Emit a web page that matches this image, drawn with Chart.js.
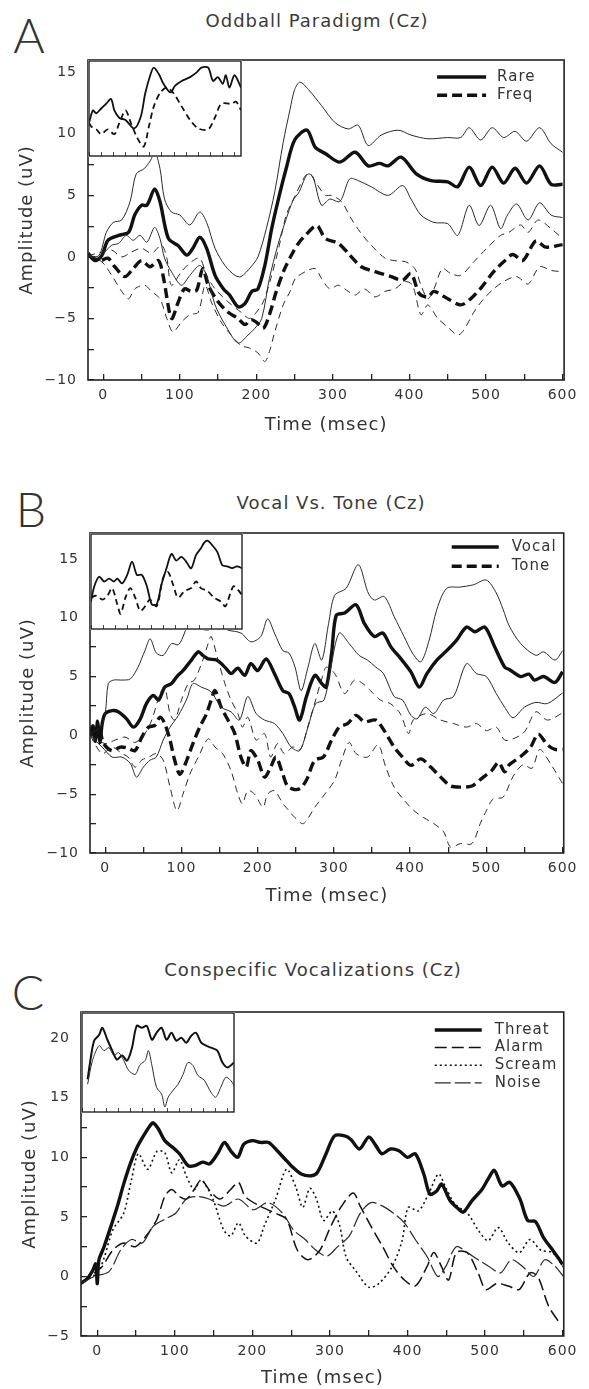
<!DOCTYPE html>
<html>
<head>
<meta charset="utf-8">
<script src="https://cdn.jsdelivr.net/npm/chart.js@4.4.1/dist/chart.umd.min.js"></script>
<style>
  body { margin: 0; background: #fff; }
  #page { position: relative; width: 589px; height: 1389px; overflow: hidden; font-family: "DejaVu Sans", sans-serif; color: #333; }
  canvas { position: absolute; left: 0; }
  .inset { background: #fff; }
  .letter { position: absolute; font-family: Lato, "DejaVu Sans", sans-serif; font-size: 48px; font-weight: 300; line-height: 1; color: #333; transform: translate(-50%, -50%); }
  .title { position: absolute; font-size: 18px; letter-spacing: 1px; white-space: nowrap; color: #3a3a3a; transform: translate(-50%, -50%); }
</style>
</head>
<body>
<div id="page">
  <div class="letter" style="left:29px;top:35px">A</div>
  <div class="title" style="left:317px;top:20px">Oddball Paradigm (Cz)</div>
  <canvas id="chartA" width="589" height="440" style="top:0px"></canvas>
  <canvas id="insetA" class="inset" width="154" height="97" style="left:88px;top:60px"></canvas>

  <div class="letter" style="left:31px;top:509px">B</div>
  <div class="title" style="left:331px;top:502px">Vocal Vs. Tone (Cz)</div>
  <canvas id="chartB" width="589" height="465" style="top:450px"></canvas>
  <canvas id="insetB" class="inset" width="153" height="97" style="left:90px;top:533px"></canvas>

  <div class="letter" style="left:28px;top:992px">C</div>
  <div class="title" style="left:313px;top:969px">Conspecific Vocalizations (Cz)</div>
  <canvas id="chartC" width="589" height="469" style="top:920px"></canvas>
  <canvas id="insetC" class="inset" width="154" height="101" style="left:81px;top:1012px"></canvas>
</div>
<script>
// ---- Panel A : oddball paradigm, [time ms, amplitude uV] ----
const rareA = [[-20,0.3],[-11,-0.3],[-2,0.1],[6,1.35],[20,1.75],[33,2.0],[41,3.4],[50,4.2],[57,4.2],[67,5.5],[74,4.5],[85,1.5],[98,0.9],[109,0.15],[117,0.7],[126,1.6],[135,0.7],[146,-1.5],[157,-2.6],[165,-3.1],[176,-4.05],[185,-3.8],[194,-2.8],[202,-2.6],[211,-0.7],[220,2.3],[228,4.5],[239,7.2],[250,9.5],[266,10.3],[277,8.9],[290,8.4],[309,7.7],[329,8.5],[346,7.4],[361,7.6],[372,7.4],[389,8.1],[409,6.75],[428,6.2],[450,6.1],[463,5.7],[478,7.3],[493,5.8],[508,7.3],[523,6.0],[538,7.2],[553,6.0],[570,7.4],[585,5.9],[600,5.9]];
const rareHiA = [[-20,0.1],[-6,0.1],[4,2.0],[13,2.8],[24,3.0],[35,4.5],[43,6.75],[54,7.2],[63,8.0],[67,8.65],[74,7.2],[80,4.7],[89,3.65],[100,3.4],[113,2.6],[126,3.65],[135,2.8],[146,0.7],[159,-0.7],[172,-1.5],[180,-1.6],[193,-0.8],[202,0],[213,2.3],[224,5.3],[235,9.3],[244,12.0],[250,13.6],[257,14.2],[268,13.6],[285,12.3],[303,10.9],[320,10.4],[333,10.7],[346,9.05],[363,9.9],[385,10.3],[402,9.9],[424,9.6],[450,9.7],[467,9.7],[478,10.5],[493,9.5],[508,10.5],[523,9.7],[538,10.2],[553,9.4],[570,10.5],[585,9.2],[600,8.5]];
const rareLoA = [[-20,0.1],[-6,-0.1],[2,0.4],[11,0.95],[20,1.1],[30,1.75],[39,1.35],[48,1.75],[57,1.2],[67,2.4],[74,1.5],[80,-0.1],[89,-1.2],[102,-2.3],[113,-1.5],[126,-0.7],[135,-1.5],[146,-3.9],[159,-5.5],[176,-7.0],[189,-6.35],[198,-5.8],[207,-5.0],[217,-1.75],[228,0.95],[239,3.1],[248,4.6],[256,5.3],[263,6.35],[268,6.75],[274,6.5],[285,4.2],[296,4.7],[309,4.5],[322,6.35],[333,6.2],[350,5.7],[372,5.0],[391,5.8],[402,4.7],[415,3.4],[432,2.8],[450,2.7],[463,1.75],[478,4.2],[491,2.55],[506,4.2],[519,2.3],[528,3.4],[540,4.3],[555,3.0],[570,4.4],[585,3.4],[600,3.2]];
const freqA = [[-20,0.1],[-4,-0.3],[6,-0.1],[15,-0.8],[28,-1.6],[39,-0.95],[50,-0.3],[61,-0.8],[72,-0.3],[78,-1.5],[87,-4.7],[90,-5.0],[98,-3.65],[106,-2.6],[115,-2.8],[122,-2.7],[130,-0.95],[137,-2.3],[150,-3.65],[163,-4.5],[176,-5.0],[185,-5.5],[193,-5.1],[200,-5.3],[209,-5.8],[217,-4.7],[226,-2.8],[237,-0.95],[248,0.4],[256,1.2],[264,1.75],[279,2.55],[290,1.5],[307,1.1],[322,0.15],[337,-0.8],[355,-1.2],[376,-1.6],[391,-1.9],[402,-1.35],[413,-3.0],[424,-3.25],[432,-2.8],[450,-3.4],[467,-3.9],[480,-3.4],[493,-2.55],[510,-1.2],[523,-0.4],[535,0.2],[548,-0.3],[565,1.3],[578,0.8],[600,1.0]];
const freqHiA = [[-20,0.1],[-2,0.4],[11,0.55],[24,0],[37,0.4],[50,0.7],[63,0.3],[76,0.95],[83,-0.1],[89,-2.3],[102,-1.2],[115,-0.4],[126,-0.1],[135,-1.5],[146,-2.6],[163,-3.65],[180,-4.5],[191,-5.0],[200,-4.5],[209,-3.65],[220,-1.5],[230,0.95],[239,3.4],[250,4.9],[264,6.6],[270,6.75],[277,6.1],[290,5.0],[298,5.0],[311,4.5],[324,3.1],[337,1.9],[350,0.95],[368,-0.1],[380,-0.3],[395,-0.4],[407,-0.95],[415,-2.3],[424,-3.4],[432,-2.6],[443,-0.95],[454,-1.35],[467,-1.5],[484,-0.4],[501,0.7],[519,1.75],[530,2.0],[545,2.6],[555,2.0],[568,3.0],[585,2.3],[600,1.5]];
const freqLoA = [[-20,0.1],[-2,-0.4],[11,-1.5],[24,-2.8],[33,-3.4],[41,-2.6],[54,-2.3],[63,-2.8],[74,-3.4],[83,-5.0],[91,-6.1],[102,-5.3],[113,-4.7],[124,-4.5],[133,-2.3],[141,-3.65],[154,-5.3],[167,-6.35],[180,-7.2],[191,-7.4],[202,-7.8],[211,-8.5],[217,-7.7],[224,-6.1],[235,-3.9],[244,-2.8],[251,-1.75],[264,-1.2],[277,-0.95],[285,-1.75],[296,-2.6],[307,-2.3],[320,-2.8],[329,-3.1],[341,-2.6],[355,-3.25],[368,-2.8],[381,-2.6],[394,-2.0],[404,-2.3],[415,-4.7],[424,-3.9],[437,-5.0],[450,-5.7],[463,-6.35],[471,-5.95],[484,-4.5],[497,-3.4],[510,-2.6],[523,-2.0],[540,-1.6],[555,-2.2],[570,-0.8],[585,-1.1],[600,-1.2]];
// inset A (unlabelled, 0-100 across, 0-10 up)
const insetSolidA = [[0,3.5],[2.6,4.8],[4.8,4.5],[8,5.0],[11.3,5.5],[14.5,6.0],[16.7,4.8],[20,4.0],[24,3.8],[29.7,2.9],[34,4.1],[37,6.6],[40.5,8.6],[42.6,9.3],[46,8.6],[49,7.6],[53.5,6.7],[56.7,7.4],[61,7.9],[66.5,8.3],[70.8,8.8],[74,9.3],[78.4,9.3],[81.6,7.9],[84.8,8.3],[88,7.6],[90,8.5],[92.4,7.2],[95.7,8.5],[100,7.2]];
const insetDashA = [[0,3.5],[1.5,3.1],[4.8,2.8],[8,2.3],[12.3,2.8],[16.7,2.3],[20,3.5],[24,4.8],[27.5,3.5],[31.8,1.9],[36,1.0],[39.4,3.1],[42.6,5.2],[47,6.7],[51.3,7.2],[55.6,6.6],[61,5.2],[66.5,3.8],[71.9,2.9],[78.4,2.8],[82.7,4.0],[87,5.5],[93.5,5.5],[96.8,5.7],[100,4.8]];

// ---- Panel B : vocal vs tone ----
const vocalB = [[-20,0],[-16,0.8],[-13,-0.5],[-10,1.2],[-7,-0.6],[-4,1.0],[0,1.85],[9,2.1],[17,2.0],[28,1.4],[37,0.7],[46,1.4],[54,2.7],[63,3.4],[70,3.0],[78,4.1],[87,4.4],[94,5.0],[102,5.5],[113,6.4],[122,7.1],[128,6.8],[135,6.5],[146,6.4],[157,5.8],[165,5.25],[174,5.7],[183,5.1],[191,6.1],[200,5.5],[211,6.5],[222,5.25],[233,3.8],[241,3.55],[248,2.5],[255,1.3],[264,3.3],[275,5.1],[284,4.4],[290,4.1],[297,7.0],[303,10.2],[314,10.4],[329,11.1],[340,9.5],[353,8.4],[364,8.7],[375,7.5],[388,6.5],[401,5.4],[412,4.1],[422,5.25],[435,6.4],[448,7.2],[461,8.1],[474,9.2],[485,8.8],[498,9.2],[511,7.5],[524,5.8],[530,5.6],[545,5.0],[556,5.2],[563,4.7],[575,5.0],[590,4.5],[600,5.4]];
const vocalHiB = [[-20,0.15],[-6,0.7],[0,1.85],[4,4.4],[11,4.7],[22,4.7],[33,4.8],[43,5.8],[52,7.2],[59,8.2],[67,7.0],[76,6.8],[87,7.8],[96,7.7],[104,8.7],[113,10.4],[122,9.2],[135,8.95],[148,9.4],[161,8.95],[178,8.7],[191,7.95],[204,8.4],[213,9.9],[222,8.7],[233,7.2],[241,7.0],[249,5.8],[257,3.8],[266,5.8],[275,7.8],[284,6.4],[293,9.5],[301,11.9],[316,12.5],[332,14.5],[345,12.1],[353,11.5],[366,11.8],[379,10.1],[392,8.4],[403,7.0],[414,6.25],[425,8.1],[435,10.7],[448,12.5],[465,12.6],[483,12.8],[500,13.2],[513,12.1],[522,10.7],[530,9.3],[545,7.8],[565,6.8],[575,7.1],[590,6.4],[600,7.2]];
const vocalLoB = [[-20,0],[-4,-1.0],[9,-1.85],[22,-1.85],[33,-2.4],[41,-3.55],[50,-2.7],[59,-2.1],[67,-1.85],[76,-0.4],[85,0.7],[96,1.7],[107,3.1],[115,4.4],[126,4.1],[139,3.7],[152,2.4],[165,2.0],[176,1.3],[187,3.3],[198,1.85],[209,1.3],[222,1.0],[233,0.15],[244,-1.0],[255,-1.3],[266,0.7],[276,2.7],[287,3.0],[296,5.8],[307,8.7],[320,7.8],[333,6.8],[344,6.4],[355,5.8],[365,5.25],[379,3.3],[390,3.0],[401,1.7],[409,1.4],[420,2.4],[431,1.85],[444,3.0],[457,3.3],[474,6.1],[487,5.25],[500,5.0],[513,3.55],[524,2.4],[535,1.5],[550,2.4],[565,2.8],[580,2.7],[600,3.6]];
const toneB = [[-20,0],[-9,0.7],[-2,-0.7],[9,-1.3],[20,-1.0],[30,-1.1],[39,-1.3],[48,-0.15],[57,0.7],[65,0.85],[72,1.55],[78,1.0],[85,-0.4],[91,-2.1],[98,-3.3],[107,-2.1],[115,-0.7],[124,0.7],[133,1.85],[139,3.0],[144,3.8],[152,2.4],[161,1.3],[170,0.15],[178,-1.85],[185,-2.7],[191,-1.3],[200,-2.1],[209,-3.55],[217,-2.7],[224,-1.85],[233,-3.3],[239,-4.3],[248,-4.6],[256,-4.5],[264,-3.8],[275,-2.1],[286,-1.85],[297,-0.4],[307,0.7],[318,1.0],[329,1.7],[340,1.15],[355,1.3],[366,0.4],[379,-1.0],[390,-1.85],[401,-2.55],[414,-2.0],[427,-2.7],[440,-3.55],[453,-4.3],[466,-4.4],[481,-4.3],[496,-3.55],[507,-3.0],[516,-2.3],[524,-3.1],[530,-2.5],[545,-1.8],[558,-1.0],[568,0.1],[580,-0.8],[590,-1.2],[600,-1.2]];
const toneHiB = [[-20,0],[0,-0.7],[13,-0.4],[26,-0.15],[39,-0.6],[52,0.15],[61,1.3],[72,3.55],[78,4.1],[85,1.85],[91,1.3],[100,3.0],[109,4.4],[117,4.7],[128,6.4],[135,7.8],[139,8.4],[148,6.4],[157,4.4],[165,3.0],[174,1.85],[180,0.7],[187,1.55],[198,-0.4],[209,0.15],[217,-1.85],[226,-0.7],[235,-1.55],[246,-1.0],[256,-1.2],[266,0.8],[276,3.0],[285,5.0],[290,5.8],[301,5.25],[314,3.55],[327,4.7],[338,4.4],[348,3.8],[361,3.0],[374,2.7],[387,1.85],[398,0.15],[404,1.3],[422,1.85],[440,1.3],[457,1.0],[474,0.7],[487,1.0],[500,0.4],[513,0.7],[524,-0.4],[535,-0.3],[550,0.3],[565,2.0],[580,1.3],[600,1.9]];
const toneLoB = [[-20,0],[-4,-1.55],[9,-1.0],[22,-1.55],[30,-1.85],[39,-2.7],[48,-2.1],[57,-1.85],[67,-1.55],[76,-2.1],[85,-4.4],[94,-6.4],[102,-5.0],[111,-3.3],[122,-1.85],[135,-0.3],[144,-1.0],[154,-1.55],[165,-3.0],[174,-5.0],[180,-5.8],[187,-4.7],[196,-5.0],[207,-6.1],[213,-5.0],[222,-4.7],[233,-5.8],[241,-6.4],[249,-7.0],[260,-7.5],[275,-6.1],[288,-5.0],[301,-3.8],[310,-2.1],[320,-0.6],[329,-1.55],[344,-1.85],[358,-0.8],[368,-2.7],[379,-4.4],[392,-5.5],[405,-6.4],[418,-7.0],[431,-7.5],[444,-8.2],[453,-9.5],[466,-9.2],[481,-9.2],[492,-7.5],[500,-6.4],[509,-5.4],[522,-5.25],[535,-3.5],[548,-2.5],[560,-2.8],[570,-1.2],[585,-2.5],[600,-4.1]];
const insetSolidB = [[0,2.9],[2.2,4.5],[5.4,5.5],[8.7,5.0],[12,5.3],[15.2,5.0],[17.4,5.3],[20.6,4.8],[24,5.7],[27.2,7.1],[30.4,5.7],[33.7,5.7],[37,4.5],[40.2,2.6],[43.5,2.6],[46.7,4.7],[50,6.4],[53.3,7.9],[56.5,7.2],[59.8,7.6],[63,7.1],[66.3,6.4],[69.6,7.8],[72.8,8.5],[75,9.1],[77.2,9.3],[80.4,8.8],[83.7,8.1],[87,6.7],[90.2,6.6],[93.5,6.4],[96.7,6.6],[100,6.4]];
const insetDashB = [[0,3.3],[3.3,3.5],[7.6,3.1],[10.9,3.5],[14,4.3],[17.4,2.6],[19.6,1.6],[22.8,3.3],[26,4.3],[29.3,3.3],[32.6,1.9],[35.9,2.4],[39,3.1],[43.5,2.4],[47.8,5.4],[51,6.0],[54.3,4.7],[57.6,3.3],[62,4.0],[66.3,4.3],[69.6,5.0],[72.8,4.3],[77.2,4.0],[81.5,3.3],[85.9,2.9],[89,2.4],[92.4,3.8],[94.6,4.5],[100,3.6]];

// ---- Panel C : conspecific vocalizations ----
const threatC = [[-22,-0.6],[-13,-0.2],[-6,0.5],[-2,1.05],[0,-0.6],[2,1.35],[8.5,2.45],[17,4.1],[25.5,5.8],[34,7.75],[42.5,9.45],[51,10.8],[59.6,11.8],[68,12.65],[72,12.9],[78.7,12.4],[87,11.4],[98,10.8],[106,10.3],[117,9.3],[125.5,9.3],[136,9.6],[144.7,9.45],[155,10.3],[164,11.25],[172,10.55],[181,10.0],[189,11.1],[200,11.4],[210.6,11.25],[221,11.25],[232,10.55],[242,9.86],[250,9.3],[263,8.6],[276,8.45],[284,8.75],[295,10.3],[306,11.8],[319,11.8],[327,11.5],[338,10.7],[350,11.7],[359,11.0],[367,10.3],[378,10.7],[389,10.55],[400,10.0],[410,10.3],[421,8.6],[429,6.9],[438,7.2],[444,7.75],[455,6.35],[466,5.65],[472,5.4],[483,6.35],[496,7.3],[505,8.3],[512,8.9],[522,7.6],[532,7.9],[545,6.5],[555,4.7],[565,4.6],[575,3.3],[585,2.4],[595,1.5],[600,1.0]];
const alarmC = [[-22,-0.6],[0,0.5],[6,0.8],[20,2.2],[34,2.8],[49,2.5],[63,3.4],[77,4.8],[87,6.7],[96,7.3],[106,6.7],[115,6.5],[125,7.3],[134,8.1],[144,7.3],[158,6.5],[172,7.3],[182,7.9],[191,6.7],[210,5.9],[230,5.3],[244,4.8],[258,2.2],[272,1.4],[287,2.2],[301,4.2],[315,5.9],[330,7.0],[339,5.9],[353,4.2],[368,2.5],[382,0.8],[396,-0.3],[410,-0.8],[425,0.8],[434,2.0],[444,0.8],[453,-0.3],[463,2.0],[477,2.0],[491,0.3],[501,-1.1],[515,-0.6],[530,-0.8],[544,-1.1],[558,0.3],[568,0],[582,-2.5],[596,-3.9]];
const screamC = [[-22,-0.6],[0,0.3],[8,1.4],[20,3.9],[34,5.3],[44,8.1],[53,10.3],[65,9.0],[77,10.5],[87,10.4],[96,8.7],[106,9.8],[115,8.4],[125,7.3],[134,8.1],[149,6.5],[163,3.9],[172,3.4],[182,4.5],[191,3.4],[206,2.8],[215,4.2],[230,6.5],[244,9.0],[256,7.5],[265,5.8],[274,7.4],[282,6.6],[292,4.7],[303,5.5],[312,4.4],[321,1.6],[333,0.5],[350,-0.9],[363,-0.6],[380,0.8],[393,3.0],[401,5.8],[414,5.5],[427,6.9],[440,8.6],[449,7.5],[461,6.1],[478,5.25],[491,3.9],[504,3.0],[517,4.1],[530,2.8],[544,2.0],[558,3.1],[572,2.2],[587,2.0],[601,0.8]];
const noiseC = [[-22,-0.6],[-4,0],[15,0.4],[30,2.2],[44,3.1],[58,2.8],[72,4.2],[87,4.8],[101,5.3],[115,6.5],[130,6.7],[144,6.5],[163,5.9],[182,6.5],[201,5.6],[220,6.2],[239,5.3],[253,3.9],[268,3.1],[282,2.2],[296,1.7],[310,2.5],[325,3.4],[339,5.3],[353,6.2],[368,5.9],[382,5.3],[396,4.5],[410,3.1],[425,1.7],[439,0],[449,0.8],[463,2.5],[477,2.0],[491,1.4],[506,0.8],[520,0.3],[534,1.4],[549,0.8],[563,0],[577,1.4],[591,0.8],[601,0]];
const insetThickC = [[3.7,3.3],[5.8,5.5],[8,7.2],[11.3,7.8],[13.4,8.5],[16.7,7.3],[19.9,6.2],[23,5.3],[26.4,5.7],[29.7,5.2],[32.9,6.5],[36,8.7],[39.4,8.5],[42.6,8.7],[46,7.3],[49,8.0],[52.4,8.5],[55.6,7.3],[58.9,8.0],[62,7.2],[65.4,7.5],[68.6,7.0],[71.9,7.7],[75,8.0],[78.4,7.0],[81.6,6.7],[84.8,6.5],[89,6.2],[92.4,5.0],[95.7,4.5],[100,5.0]];
const insetThinC = [[3.7,2.8],[6.9,5.2],[11.3,6.7],[14.5,6.2],[17.7,6.5],[21,5.7],[24,6.0],[27.5,5.2],[30.7,4.2],[35,3.8],[38.3,4.8],[41.6,5.2],[43.7,6.2],[46,4.7],[49,2.5],[52.4,1.8],[54.5,0.5],[56.7,1.5],[60,2.2],[63.2,2.8],[66.5,3.8],[69.7,5.0],[73,4.7],[76.2,3.7],[80.5,3.2],[84.8,2.0],[88,1.5],[91.3,2.5],[94.6,3.5],[97.8,3.2],[100,2.7]];

const INK = '#111';
const THIN = '#2a2a2a';
const FONT = '"DejaVu Sans", sans-serif';

function xy(arr) {
    return arr.map(p => ({ x: p[0], y: p[1] }));
}

function line(label, arr, width, dash, color, inLegend) {
    return {
        label: label,
        data: xy(arr),
        borderColor: color,
        borderWidth: width,
        borderDash: dash,
        pointRadius: 0,
        tension: 0.3,
        fill: false,
        inLegend: inLegend
    };
}

function minus(v) {
    return v < 0 ? '\u2212' + Math.abs(v) : String(v);
}

// wider lettering, like the scanned figure
const spacingPlugin = {
    id: 'spacing',
    beforeDraw(chart) {
        chart.ctx.letterSpacing = '1px';
    }
};

// box round the plot area
const framePlugin = {
    id: 'frame',
    afterDraw(chart, args, opts) {
        const a = chart.chartArea;
        const ctx = chart.ctx;
        ctx.save();
        ctx.strokeStyle = '#222';
        ctx.lineWidth = opts.width || 1.6;
        ctx.strokeRect(a.left, a.top, a.right - a.left, a.bottom - a.top);
        ctx.restore();
    }
};

// line-style legend in the upper right of the plot
const legendPlugin = {
    id: 'panelLegend',
    afterDraw(chart, args, opts) {
        if (!opts || !opts.len) return;
        const a = chart.chartArea;
        const ctx = chart.ctx;
        const items = chart.data.datasets.filter(d => d.inLegend);
        items.sort((p, q) => p.inLegend - q.inLegend);
        items.forEach((d, i) => {
            const y = a.top + opts.top + i * opts.row;
            const x0 = a.right - opts.right;
            ctx.save();
            ctx.strokeStyle = d.borderColor;
            ctx.lineWidth = d.borderWidth;
            ctx.setLineDash(d.borderDash || []);
            ctx.beginPath();
            ctx.moveTo(x0, y);
            ctx.lineTo(x0 + opts.len, y);
            ctx.stroke();
            ctx.setLineDash([]);
            ctx.fillStyle = '#333';
            ctx.font = '15px ' + FONT;
            ctx.textBaseline = 'middle';
            ctx.fillText(d.label, x0 + opts.len + opts.gap, y);
            ctx.restore();
        });
    }
};

function mainChart(id, datasets, cfg) {
    return new Chart(document.getElementById(id), {
        type: 'line',
        data: { datasets: datasets },
        options: {
            responsive: false,
            animation: false,
            layout: { padding: { top: cfg.top, right: cfg.right, left: 0, bottom: 0 } },
            plugins: {
                legend: { display: false },
                tooltip: { enabled: false },
                panelLegend: cfg.legend
            },
            scales: {
                x: {
                    type: 'linear',
                    min: cfg.xmin,
                    max: cfg.xmax,
                    afterFit: s => { s.height = cfg.xh; },
                    border: { display: false },
                    grid: { drawOnChartArea: false, drawTicks: true, tickLength: -6, color: '#222', lineWidth: 1.3 },
                    ticks: {
                        stepSize: 50, includeBounds: false, autoSkip: false, maxRotation: 0,
                        padding: 13, color: '#333', font: { size: 14, family: FONT },
                        callback: v => (v % 100 === 0 ? minus(v) : '')
                    },
                    title: {
                        display: true, text: 'Time (msec)', color: '#333',
                        font: { size: 18, family: FONT }, padding: { top: 0, bottom: cfg.tpad }
                    }
                },
                y: {
                    min: cfg.ymin,
                    max: cfg.ymax,
                    afterFit: s => { s.width = cfg.yw; },
                    border: { display: false },
                    grid: { drawOnChartArea: false, drawTicks: true, tickLength: -6, color: '#222', lineWidth: 1.3 },
                    ticks: {
                        stepSize: 2.5, includeBounds: false, autoSkip: false,
                        padding: 17, color: '#333', font: { size: 14, family: FONT },
                        callback: v => (v % 5 === 0 ? minus(v) : '')
                    },
                    title: {
                        display: true, text: 'Amplitude (uV)', color: '#333',
                        font: { size: 18, family: FONT }, padding: { top: cfg.ypad, bottom: 0 }
                    }
                }
            }
        },
        plugins: [spacingPlugin, framePlugin, legendPlugin]
    });
}

function insetChart(id, datasets) {
    return new Chart(document.getElementById(id), {
        type: 'line',
        data: { datasets: datasets },
        options: {
            responsive: false,
            animation: false,
            layout: { padding: 1 },
            plugins: { legend: { display: false }, tooltip: { enabled: false }, frame: { width: 1.4 } },
            scales: {
                x: {
                    type: 'linear', min: 0, max: 100,
                    afterFit: s => { s.height = 0; },
                    border: { display: false },
                    grid: { drawOnChartArea: false, drawTicks: true, tickLength: -4, color: '#444', lineWidth: 1 },
                    ticks: { display: false, stepSize: 8, includeBounds: false, autoSkip: false }
                },
                y: { min: 0, max: 10, display: false }
            }
        },
        plugins: [framePlugin]
    });
}

mainChart('chartA', [
    line('Rare +', rareHiA, 1, [], THIN, 0),
    line('Rare -', rareLoA, 1, [], THIN, 0),
    line('Freq +', freqHiA, 1, [7, 5], THIN, 0),
    line('Freq -', freqLoA, 1, [7, 5], THIN, 0),
    line('Freq', freqA, 3.4, [10, 5], INK, 2),
    line('Rare', rareA, 3.4, [], INK, 1)
], { top: 60, right: 23, xh: 60, yw: 88, xmin: -20, xmax: 602, ymin: -10, ymax: 16, tpad: 4, ypad: 17,
     legend: { top: 17, row: 18.3, right: 127, len: 49, gap: 11 } });

insetChart('insetA', [
    line('', insetDashA, 1.8, [6, 4], INK, 0),
    line('', insetSolidA, 1.8, [], INK, 0)
]);

mainChart('chartB', [
    line('Vocal +', vocalHiB, 1, [], THIN, 0),
    line('Vocal -', vocalLoB, 1, [], THIN, 0),
    line('Tone +', toneHiB, 1, [7, 5], THIN, 0),
    line('Tone -', toneLoB, 1, [7, 5], THIN, 0),
    line('Tone', toneB, 3.4, [10, 5], INK, 2),
    line('Vocal', vocalB, 3.4, [], INK, 1)
], { top: 83, right: 20, xh: 62, yw: 90, xmin: -20, xmax: 601.5, ymin: -10, ymax: 17.2, tpad: 8, ypad: 18,
     legend: { top: 14, row: 19.3, right: 112, len: 47, gap: 13 } });

insetChart('insetB', [
    line('', insetDashB, 1.8, [6, 4], INK, 0),
    line('', insetSolidB, 1.8, [], INK, 0)
]);

mainChart('chartC', [
    line('Noise', noiseC, 1.2, [16, 4], THIN, 4),
    line('Scream', screamC, 1.6, [2, 3], INK, 3),
    line('Alarm', alarmC, 1.5, [12, 5], INK, 2),
    line('Threat', threatC, 3.4, [], INK, 1)
], { top: 92, right: 18, xh: 53, yw: 81, xmin: -21, xmax: 601.5, ymin: -5, ymax: 22.2, tpad: 0, ypad: 20,
     legend: { top: 18, row: 17.6, right: 129, len: 47, gap: 13 } });

insetChart('insetC', [
    line('', insetThinC, 1, [], THIN, 0),
    line('', insetThickC, 2, [], INK, 0)
]);
</script>
</body>
</html>
